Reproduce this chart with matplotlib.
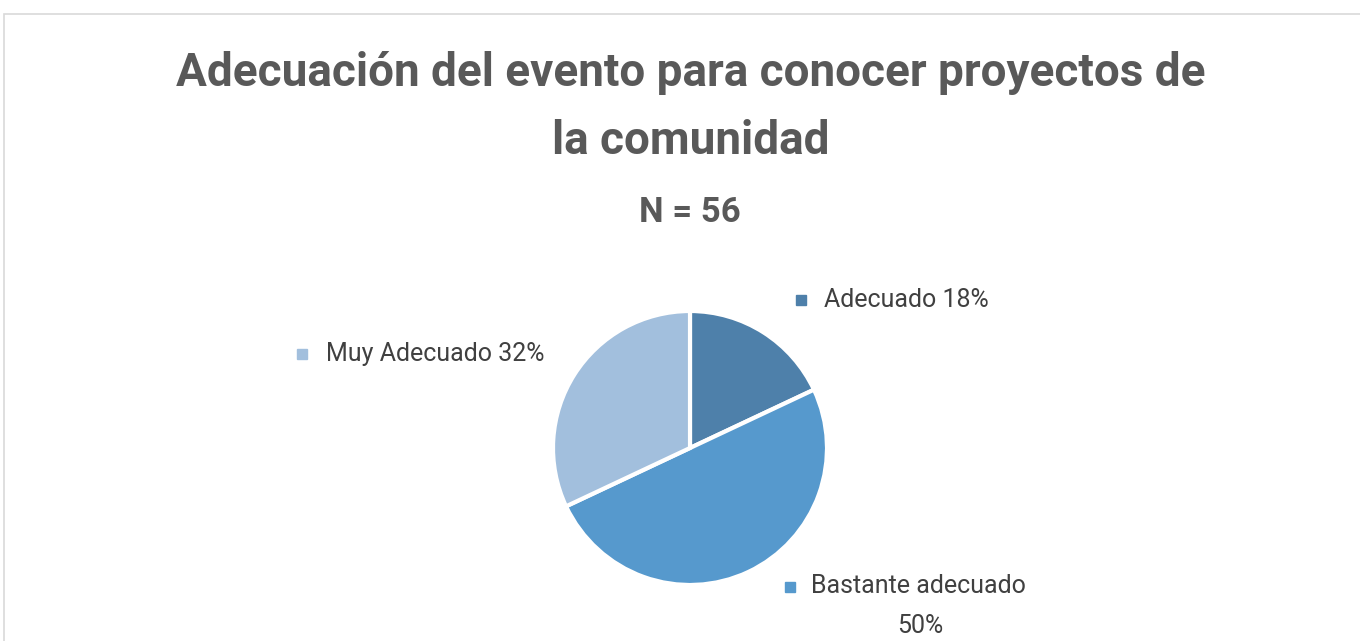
import matplotlib
matplotlib.use("Agg")
import matplotlib.pyplot as plt
from matplotlib.lines import Line2D
from matplotlib.patches import Rectangle

categories = ["Adecuado", "Bastante adecuado", "Muy Adecuado"]
values = [18, 50, 32]
colors = ["#4E80AA", "#5699CD", "#A2BFDD"]
title_lines = ["Adecuación del evento para conocer proyectos de", "la comunidad"]
subtitle = "N = 56"

W, H = 1360, 641
fig = plt.figure(figsize=(W / 100, H / 100), dpi=100)
plt.rcParams['font.family'] = ['Roboto', 'DejaVu Sans']

def fx(x):
    return x / W

def fy(y):
    return 1 - y / H

# border
fig.add_artist(Rectangle((fx(4), fy(700)), 1.2, fy(14) - fy(700), transform=fig.transFigure,
                         fill=False, edgecolor="#D9D9D9", linewidth=1.2))

cx, cy, r = 690, 448, 137
ax = fig.add_axes([fx(cx - r), fy(cy + r), 2 * r / W, 2 * r / H])
ax.pie(values, colors=colors, startangle=90, counterclock=False,
       wedgeprops=dict(edgecolor="white", linewidth=3))
ax.set_xlim(-1, 1)
ax.set_ylim(-1, 1)
ax.set_aspect("auto")
ax.axis("off")

fig.text(fx(691), fy(73), title_lines[0], ha="center", va="center",
         fontsize=33, fontweight="bold", color="#595959")
fig.text(fx(691), fy(141), title_lines[1], ha="center", va="center",
         fontsize=33, fontweight="bold", color="#595959")
fig.text(fx(690), fy(212), subtitle, ha="center", va="center",
         fontsize=25, fontweight="bold", color="#595959")

lab_color = "#404040"
lfs = 18

def marker(x, y, c):
    fig.add_artist(Line2D([fx(x)], [fy(y)], marker="s", markersize=6.5, color=c,
                          linestyle="none", transform=fig.transFigure))

# Adecuado
marker(801, 300, colors[0])
fig.text(fx(824), fy(300), f"{categories[0]} {values[0]}%", ha="left", va="center",
         fontsize=lfs, color=lab_color)
# Muy Adecuado
marker(302, 354, colors[2])
fig.text(fx(326), fy(354), f"{categories[2]} {values[2]}%", ha="left", va="center",
         fontsize=lfs, color=lab_color)
# Bastante adecuado
marker(790, 587, colors[1])
fig.text(fx(811), fy(586), categories[1], ha="left", va="center",
         fontsize=lfs, color=lab_color)
fig.text(fx(920), fy(626), f"{values[1]}%", ha="center", va="center",
         fontsize=lfs, color=lab_color)

fig.savefig("out.png", dpi=100)
